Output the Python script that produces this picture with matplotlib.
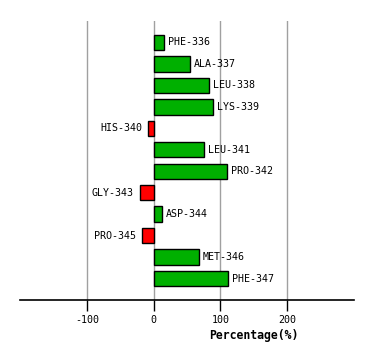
import matplotlib
matplotlib.use('Agg')
import matplotlib.pyplot as plt
import numpy as np

RESIDUES = ['PHE-336', 'ALA-337', 'LEU-338', 'LYS-339', 'HIS-340', 'LEU-341',
            'PRO-342', 'GLY-343', 'ASP-344', 'PRO-345', 'MET-346', 'PHE-347']
PERCENT  = [15.4, 54.0, 82.6, 88.6, -8.5, 75.0, 110.0, -20.4, 12.4, -17.4, 67.6, 111.0]
XTICKS   = [-100, 0, 100, 200]

GREEN = '#00B000'
RED   = '#FF0000'
FONT  = 'DejaVu Sans Mono'

plt.rcParams['axes.unicode_minus'] = False

fig = plt.figure(figsize=(3.74, 3.61), dpi=100)
ax = fig.add_axes([20 / 374, 61 / 361, 334 / 374, 279 / 361])

y = np.arange(len(RESIDUES))
colors = [GREEN if v >= 0 else RED for v in PERCENT]
ax.barh(y, PERCENT, height=0.72, color=colors, edgecolor='black', linewidth=1.0, zorder=3)

for yi, v, name in zip(y, PERCENT, RESIDUES):
    if v >= 0:
        ax.annotate(name, (v, yi), xytext=(4, 0), textcoords='offset pixels',
                    ha='left', va='center', fontsize=7.2, family=FONT)
    else:
        ax.annotate(name, (v, yi), xytext=(-6, 0), textcoords='offset pixels',
                    ha='right', va='center', fontsize=7.2, family=FONT)

ax.set_xlim(-200, 300)
ax.set_ylim(12, -1.0)
ax.set_xticks(XTICKS)
ax.set_xticklabels([str(t) for t in XTICKS], fontsize=7.2, family=FONT)
ax.set_yticks([])
ax.tick_params(axis='x', length=8, width=1, color='black', pad=3)
ax.grid(axis='x', color='#A0A0A0', linewidth=1, zorder=0)
for s in ['top', 'right', 'left']:
    ax.spines[s].set_visible(False)
ax.spines['bottom'].set_linewidth(1.2)

fig.text(254 / 374, 1 - 335 / 361, 'Percentage(%)', ha='center', va='center',
         fontsize=8.3, fontweight='bold', family=FONT)

fig.savefig('out.png', dpi=100)
